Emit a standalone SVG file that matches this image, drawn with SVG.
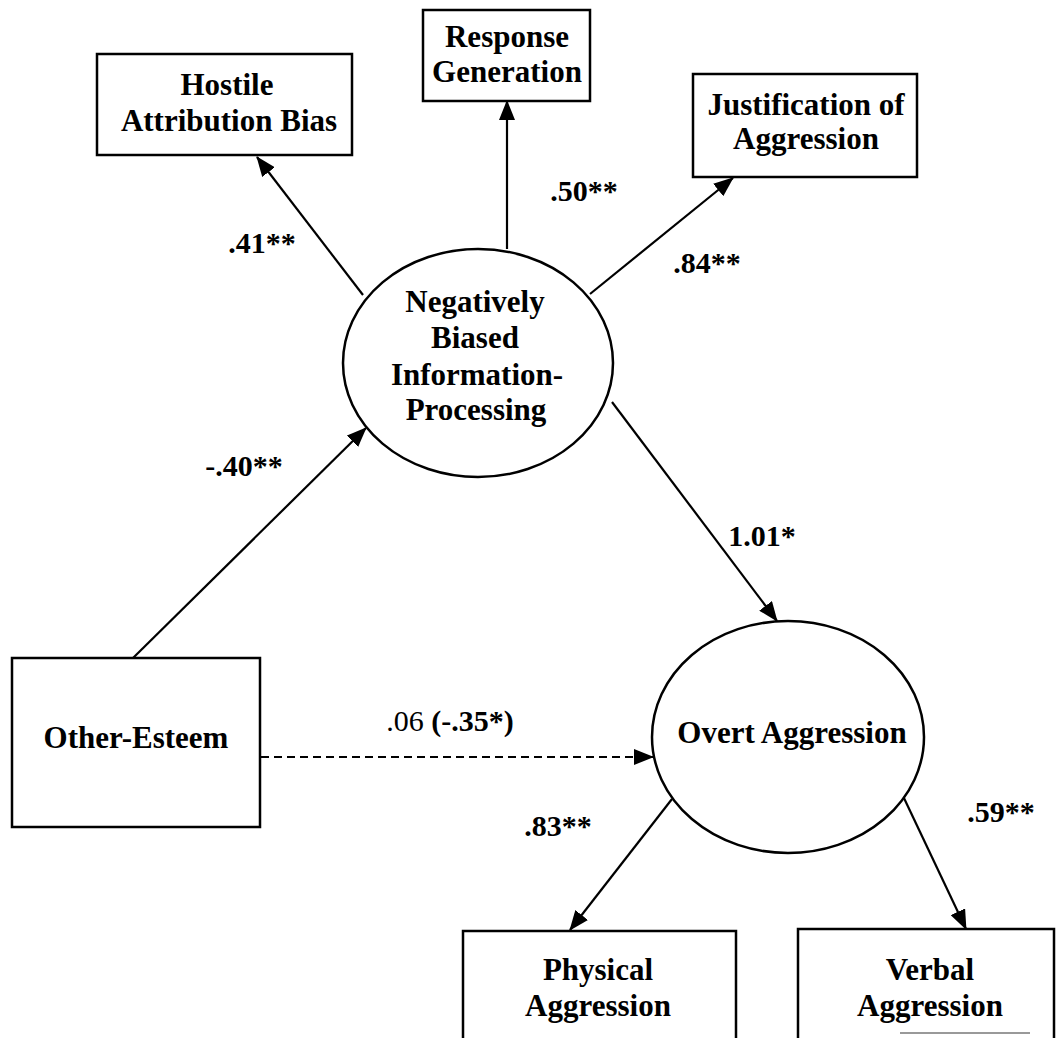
<svg xmlns="http://www.w3.org/2000/svg" width="1059" height="1038" viewBox="0 0 1059 1038">
  <style>
    .box { fill: #fff; stroke: #000; stroke-width: 2.5; }
    .oval { fill: #fff; stroke: #000; stroke-width: 2.5; }
    .node { font-family: "Liberation Serif", "Times New Roman", serif; font-weight: bold; font-size: 31px; fill: #000; text-anchor: middle; }
    .lbl { font-family: "Liberation Serif", "Times New Roman", serif; font-weight: bold; font-size: 30px; fill: #000; text-anchor: middle; }
    .reg { font-weight: normal; }
    .edge { fill: none; stroke: #000; stroke-width: 2.2; marker-end: url(#arrow); }
    .dash { stroke-dasharray: 8 5; }
  </style>
  <defs>
    <marker id="arrow" markerUnits="userSpaceOnUse" markerWidth="20" markerHeight="16" refX="19" refY="8" orient="auto">
      <path d="M0,0 L20,8 L0,16 Z" fill="#000"/>
    </marker>
  </defs>
  <rect width="1059" height="1038" fill="#fff"/>

  <!-- paths between constructs -->
  <g id="connectors">
    <line class="edge" x1="363" y1="295" x2="257" y2="157"/>
    <line class="edge" x1="507" y1="249" x2="507" y2="101"/>
    <line class="edge" x1="590" y1="294" x2="733" y2="178"/>
    <line class="edge" x1="133" y1="658" x2="366" y2="428"/>
    <line class="edge" x1="612" y1="402" x2="777" y2="621"/>
    <line class="edge dash" x1="261" y1="757" x2="653" y2="757"/>
    <line class="edge" x1="672" y1="799" x2="570" y2="930"/>
    <line class="edge" x1="903" y1="796" x2="966" y2="929"/>
  </g>

  <g id="hostile">
    <rect class="box" x="97" y="54" width="255" height="101"/>
    <text class="node" x="227" y="95">Hostile</text>
    <text class="node" x="229" y="131">Attribution Bias</text>
  </g>

  <g id="response">
    <rect class="box" x="423" y="10" width="167" height="91"/>
    <text class="node" x="507" y="47">Response</text>
    <text class="node" x="507" y="82">Generation</text>
  </g>

  <g id="justification">
    <rect class="box" x="693" y="74" width="224" height="103"/>
    <text class="node" x="806" y="115">Justification of</text>
    <text class="node" x="806" y="149">Aggression</text>
  </g>

  <g id="nbip">
    <ellipse class="oval" cx="478" cy="363" rx="135" ry="114"/>
    <text class="node" x="475" y="312">Negatively</text>
    <text class="node" x="475" y="348">Biased</text>
    <text class="node" x="477" y="385">Information-</text>
    <text class="node" x="476" y="420">Processing</text>
  </g>

  <g id="other-esteem">
    <rect class="box" x="12" y="658" width="248" height="169"/>
    <text class="node" x="136" y="748">Other-Esteem</text>
  </g>

  <g id="overt">
    <ellipse class="oval" cx="788" cy="737" rx="136" ry="116"/>
    <text class="node" x="792" y="743">Overt Aggression</text>
  </g>

  <g id="physical">
    <rect class="box" x="463" y="931" width="273" height="120"/>
    <text class="node" x="598" y="980">Physical</text>
    <text class="node" x="598" y="1016">Aggression</text>
  </g>

  <g id="verbal">
    <rect class="box" x="798" y="929" width="256" height="122"/>
    <text class="node" x="930" y="980">Verbal</text>
    <text class="node" x="930" y="1016">Aggression</text>
  </g>

  <!-- path coefficients -->
  <g id="coefficients">
    <text class="lbl" x="262" y="253">.41**</text>
    <text class="lbl" x="584" y="201">.50**</text>
    <text class="lbl" x="707" y="273">.84**</text>
    <text class="lbl" x="244" y="476">-.40**</text>
    <text class="lbl" x="762" y="546">1.01*</text>
    <text class="lbl" x="450" y="731"><tspan class="reg">.06 </tspan>(-.35*)</text>
    <text class="lbl" x="558" y="836">.83**</text>
    <text class="lbl" x="1001" y="822">.59**</text>
  </g>

  <line x1="900" y1="1033" x2="1030" y2="1033" stroke="#777" stroke-width="1.5"/>
</svg>
